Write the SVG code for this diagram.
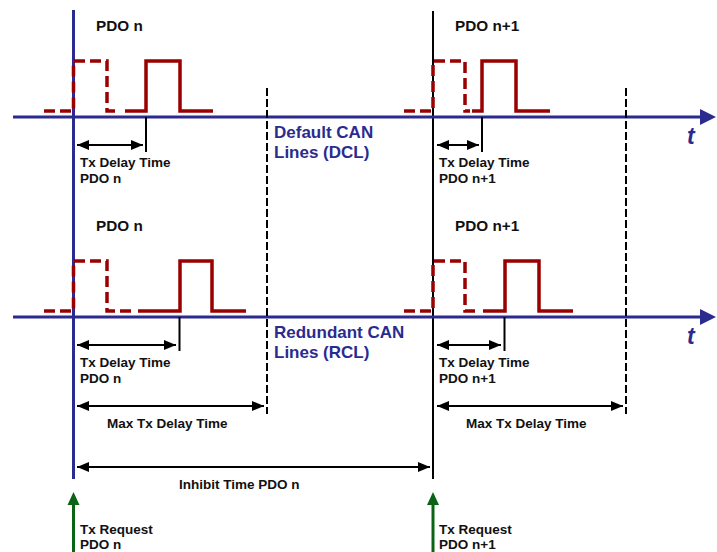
<svg xmlns="http://www.w3.org/2000/svg" width="717" height="552" viewBox="0 0 717 552">
<style>
text{font-family:"Liberation Sans",Arial,sans-serif;font-weight:bold;fill:#111}
.lbl{font-size:13.5px}
.pdo{font-size:15.3px}
.can{font-size:17px;fill:#2b2b8f}
.t{font-size:23px;font-style:italic;fill:#2b2b8f}
.axis{stroke:#2b2b8f;stroke-width:3;fill:none}
.sig{stroke:#990000;stroke-width:3.5;fill:none;stroke-linejoin:miter}
.dash{stroke-dasharray:11 5}
.mark{stroke:#000;stroke-width:2;fill:none}
.bound{stroke:#000;stroke-width:2;stroke-dasharray:8 3;fill:none}
.dim{stroke:#000;stroke-width:2;fill:none;marker-start:url(#ah);marker-end:url(#ah)}
.req{stroke:#0a6414;stroke-width:3;fill:none}
</style>
<defs>
<marker id="ah" viewBox="0 0 12 10" refX="12" refY="5" markerWidth="12" markerHeight="10" markerUnits="userSpaceOnUse" orient="auto-start-reverse">
<path d="M0,0 L12,5 L0,10 z" fill="#000"/>
</marker>
</defs>

<g id="axes">
<line class="axis" x1="73.5" y1="10" x2="73.5" y2="479"/>
<line x1="433" y1="11" x2="433" y2="479" stroke="#000" stroke-width="2"/>
<line class="axis" x1="13" y1="117" x2="702" y2="117"/>
<polygon points="700,109 716,117 700,125" fill="#2b2b8f"/>
<line class="axis" x1="13" y1="317" x2="702" y2="317"/>
<polygon points="700,309 716,317 700,325" fill="#2b2b8f"/>
<text class="t" x="687" y="144">t</text>
<text class="t" x="687" y="344">t</text>
</g>

<g id="bounds">
<line class="bound" x1="267" y1="88" x2="267" y2="414"/>
<line class="bound" x1="626" y1="88" x2="626" y2="414"/>
</g>

<g id="dcl">
<text class="can" x="274" y="138">Default CAN</text>
<text class="can" x="274" y="158">Lines (DCL)</text>
</g>
<g id="rcl">
<text class="can" x="274" y="338">Redundant CAN</text>
<text class="can" x="274" y="358">Lines (RCL)</text>
</g>

<g id="dcl-pdo-n">
<text class="pdo" x="96" y="31">PDO n</text>
<path class="sig dash" d="M44,111 H73.5 V61 H107 V111 H120"/>
<path class="sig" d="M125,111 H146 V61 H180 V111 H213"/>
<line class="mark" x1="146" y1="117" x2="146" y2="152"/>
<line class="dim" x1="77" y1="145" x2="143" y2="145"/>
<text class="lbl" x="80" y="167">Tx Delay Time</text>
<text class="lbl" x="80" y="183">PDO n</text>
</g>

<g id="dcl-pdo-n1">
<text class="pdo" x="455" y="31">PDO n+1</text>
<path class="sig dash" d="M404,111 H433 V61 H465 V111 H470"/>
<path class="sig" d="M472,111 H482 V61 H516 V111 H550"/>
<line class="mark" x1="482" y1="117" x2="482" y2="152"/>
<line class="dim" x1="437" y1="145" x2="479" y2="145"/>
<text class="lbl" x="439" y="167">Tx Delay Time</text>
<text class="lbl" x="439" y="183">PDO n+1</text>
</g>

<g id="rcl-pdo-n">
<text class="pdo" x="96" y="231">PDO n</text>
<path class="sig dash" d="M44,311 H73.5 V261 H107 V311 H135"/>
<path class="sig" d="M138,311 H180 V261 H212 V311 H246"/>
<line class="mark" x1="179.5" y1="317" x2="179.5" y2="351"/>
<line class="dim" x1="77" y1="345" x2="176" y2="345"/>
<text class="lbl" x="80" y="367">Tx Delay Time</text>
<text class="lbl" x="80" y="383">PDO n</text>
</g>

<g id="rcl-pdo-n1">
<text class="pdo" x="455" y="231">PDO n+1</text>
<path class="sig dash" d="M404,311 H433 V261 H465 V311 H479"/>
<path class="sig" d="M483,311 H505 V261 H539 V311 H573"/>
<line class="mark" x1="504.5" y1="317" x2="504.5" y2="351"/>
<line class="dim" x1="437" y1="345" x2="501" y2="345"/>
<text class="lbl" x="439" y="367">Tx Delay Time</text>
<text class="lbl" x="439" y="383">PDO n+1</text>
</g>

<g id="connectors">
<line class="dim" x1="77" y1="406" x2="264" y2="406"/>
<line class="dim" x1="437" y1="406" x2="623" y2="406"/>
<line class="dim" x1="77" y1="467" x2="430" y2="467"/>
<line class="req" x1="73.5" y1="552" x2="73.5" y2="504"/>
<polygon points="67.5,505 73.5,492 79.5,505" fill="#0a6414"/>
<line class="req" x1="433" y1="552" x2="433" y2="504"/>
<polygon points="427,505 433,492 439,505" fill="#0a6414"/>
</g>

<g id="labels">
<text class="lbl" x="107" y="428">Max Tx Delay Time</text>
<text class="lbl" x="466" y="428">Max Tx Delay Time</text>
<text class="lbl" x="179" y="489">Inhibit Time PDO n</text>
<text class="lbl" x="80" y="534">Tx Request</text>
<text class="lbl" x="80" y="549">PDO n</text>
<text class="lbl" x="439" y="534">Tx Request</text>
<text class="lbl" x="439" y="549">PDO n+1</text>
</g>
</svg>
